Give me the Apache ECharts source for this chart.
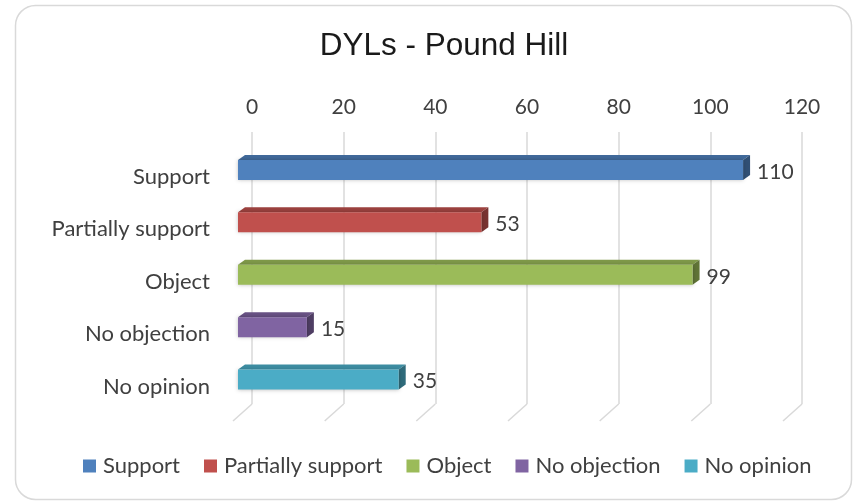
<!DOCTYPE html>
<html>
<head>
<meta charset="utf-8">
<script src="https://cdn.jsdelivr.net/npm/echarts@6/dist/echarts.min.js"></script>
<style>html,body{margin:0;padding:0;background:#fff;}#c{width:854px;height:503px;}</style>
</head>
<body>
<div id="c"></div>
<script>
const title = 'DYLs - Pound Hill';
const categories = ['Support', 'Partially support', 'Object', 'No objection', 'No opinion'];
const values = [110, 53, 99, 15, 35];
const axisMin = 0, axisMax = 120, axisInterval = 20;
const tickValues = [0, 20, 40, 60, 80, 100, 120];

const palette = ['#4F81BD', '#C0504D', '#9BBB59', '#8064A2', '#4BACC6'];
function shade(hex, f) {
  const n = parseInt(hex.slice(1), 16);
  let r = (n >> 16) & 255, g = (n >> 8) & 255, b = n & 255;
  r = Math.round(r * f); g = Math.round(g * f); b = Math.round(b * f);
  return 'rgb(' + r + ',' + g + ',' + b + ')';
}
const FONT = 'Lato, "Noto Sans", sans-serif';
const TXT = '#404040';
const DX = 7, DY = 5, HALF = 10;

const chart = echarts.init(document.getElementById('c'), null, {renderer: 'canvas'});

const series = categories.map((name, i) => ({
  name: name,
  type: 'custom',
  xAxisIndex: 1, yAxisIndex: 1,
  itemStyle: {color: palette[i]},
  data: [[values[i], i]],
  renderItem: function (params, api) {
    const v = api.value(0), c = api.value(1);
    const p0 = api.coord([0, c]);
    const p1 = api.coord([v, c]);
    const x0 = p0[0], x1 = p1[0], cy = p0[1];
    const yT = cy - HALF, yB = cy + HALF;
    const col = palette[i];
    return {
      type: 'group',
      children: [
        {type: 'polygon', shape: {points: [[x0, yT], [x0 + DX, yT - DY], [x1 + DX, yT - DY], [x1, yT]]},
         style: {fill: shade(col, 0.82)}},
        {type: 'polygon', shape: {points: [[x1, yT], [x1 + DX, yT - DY], [x1 + DX, yB - DY], [x1, yB]]},
         style: {fill: shade(col, 0.62)}},
        {type: 'rect', shape: {x: x0, y: yT, width: x1 - x0, height: yB - yT},
         style: {fill: col, shadowBlur: 4, shadowColor: 'rgba(0,0,0,0.25)'}},
        {type: 'text', style: {text: String(v), x: x1 + DX + 7, y: cy + 2, verticalAlign: 'middle',
          align: 'left', fill: TXT, font: '21px ' + FONT}}
      ]
    };
  }
}));

series.unshift({
  type: 'custom',
  name: 'floor',
  xAxisIndex: 0, yAxisIndex: 0,
  silent: true,
  data: tickValues.map(v => [v, 0]),
  renderItem: function (params, api) {
    const p = api.coord([api.value(0), 0]);
    return {type: 'line', shape: {x1: p[0], y1: p[1], x2: p[0] - 19, y2: p[1] + 17},
      style: {stroke: '#d9d9d9', lineWidth: 1.5}};
  }
});

chart.setOption({
  animation: false,
  title: {text: title, left: 439, top: 25, textAlign: 'center',
    textStyle: {fontFamily: '"Liberation Sans", Arial, sans-serif', fontSize: 31.5, fontWeight: 'normal', color: '#1a1a1a'}},
  graphic: [{type: 'rect', silent: true, z: -10,
    shape: {x: 15.5, y: 5.5, width: 836, height: 494, r: 20},
    style: {fill: 'none', stroke: '#d9d9d9', lineWidth: 1.5}}],
  legend: {
    bottom: 21, left: 78, icon: 'rect', itemWidth: 13, itemHeight: 13, itemGap: 24,
    data: categories,
    textStyle: {fontFamily: FONT, fontSize: 22, color: TXT, padding: [0, 0, 0, 2]}
  },
  grid: [
    {left: 252, right: 52, top: 132, bottom: 99},
    {left: 238, right: 65, top: 143.75, bottom: 97.25},
    {left: 238, right: 65, top: 150.75, bottom: 90.25}
  ],
  xAxis: [
    {gridIndex: 0, type: 'value', position: 'top', min: axisMin, max: axisMax, interval: axisInterval,
     axisLine: {show: false}, axisTick: {show: false},
     axisLabel: {margin: 14, color: TXT, fontFamily: FONT, fontSize: 21},
     splitLine: {show: true, lineStyle: {color: '#d9d9d9', width: 1.5}}},
    {gridIndex: 1, type: 'value', min: axisMin, max: axisMax, interval: axisInterval, show: false},
    {gridIndex: 2, type: 'value', min: axisMin, max: axisMax, interval: axisInterval, show: false}
  ],
  yAxis: [
    {gridIndex: 0, type: 'value', min: 0, max: 1, show: false},
    {gridIndex: 1, type: 'category', data: categories, inverse: true, show: false},
    {gridIndex: 2, type: 'category', data: categories, inverse: true,
     axisLine: {show: false}, axisTick: {show: false}, splitLine: {show: false},
     axisLabel: {margin: 28, color: TXT, fontFamily: FONT, fontSize: 22}}
  ],
  series: series
});
</script>
</body>
</html>
